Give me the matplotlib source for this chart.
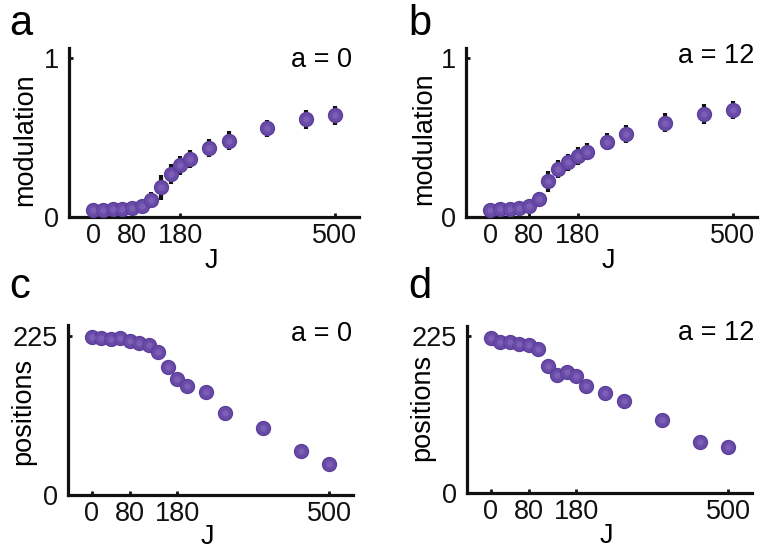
import matplotlib
matplotlib.use("Agg")
import matplotlib.pyplot as plt
import numpy as np

plt.rcParams['font.family'] = ['Liberation Sans', 'DejaVu Sans']

J = [0, 20, 40, 60, 80, 100, 120, 140, 160, 180, 200, 240, 280, 360, 440, 500]

mod_a0 = [0.046, 0.046, 0.050, 0.050, 0.056, 0.071, 0.109, 0.186, 0.272, 0.326, 0.366, 0.433, 0.481, 0.559, 0.615, 0.642]
err_a0 = [0.012, 0.012, 0.012, 0.012, 0.014, 0.022, 0.050, 0.078, 0.065, 0.060, 0.057, 0.057, 0.058, 0.055, 0.058, 0.060]
mod_a12 = [0.046, 0.050, 0.050, 0.054, 0.067, 0.113, 0.224, 0.301, 0.345, 0.385, 0.412, 0.475, 0.523, 0.594, 0.649, 0.674]
err_a12 = [0.012, 0.012, 0.012, 0.012, 0.018, 0.045, 0.066, 0.058, 0.055, 0.055, 0.055, 0.055, 0.058, 0.061, 0.060, 0.059]

pos_a0 = [223.6, 221.2, 219.8, 221.2, 217.9, 214.6, 211.7, 202.2, 180.9, 163.4, 153.9, 145.4, 116.1, 94.7, 62.5, 43.6]
pos_a12 = [223.0, 216.8, 216.8, 214.5, 212.1, 206.4, 182.1, 170.2, 174.0, 168.3, 153.5, 143.9, 132.0, 104.9, 73.9, 65.8]

xticks = [0, 80, 180, 500]
W, H = 765, 554
fig = plt.figure(figsize=(W / 100, H / 100), dpi=100)

def px_axes(left, right, top, bottom):
    return fig.add_axes([left / W, 1 - bottom / H, (right - left) / W, (bottom - top) / H])

purple = '#6a4ca8'
edge = '#5c3f9c'
light = '#8a6fc2'
FS = 19.5

def style(ax, ylim, yticks, ylabel, ylab_xy, xlab_xy):
    ax.set_xlim(-50, 550)
    ax.set_ylim(*ylim)
    ax.set_xticks(xticks)
    ax.set_yticks(yticks)
    ax.set_yticklabels([str(t) for t in yticks])
    for s in ['top', 'right']:
        ax.spines[s].set_visible(False)
    for s in ['left', 'bottom']:
        ax.spines[s].set_linewidth(2.3)
        ax.spines[s].set_color('#111111')
    ax.tick_params(direction='in', length=3, width=2, labelsize=FS, colors='#111111')
    ax.tick_params(axis='x', pad=4)
    ax.tick_params(axis='y', pad=7)
    ax.set_xlabel('J', fontsize=FS)
    ax.xaxis.label.set_va('center')
    ax.xaxis.set_label_coords(*xlab_xy)
    ax.set_ylabel(ylabel, fontsize=FS)
    ax.yaxis.label.set_va('center')
    ax.yaxis.set_label_coords(*ylab_xy)
    ax.patch.set_alpha(0)

def dots(ax, x, y, err=None):
    if err is not None:
        ax.errorbar(x, y, yerr=err, fmt='none', ecolor='#111111', elinewidth=3, capsize=0, zorder=2)
    ax.plot(x, y, 'o', ms=10, mfc=purple, mec=edge, mew=1, zorder=3, clip_on=False)
    ax.plot(x, y, 'o', ms=4.5, mfc=light, mec='none', alpha=0.55, zorder=4, clip_on=False)

ax_a = px_axes(69, 359, 48, 217)
dots(ax_a, J, mod_a0, err_a0)
style(ax_a, (0, 1.065), [0, 1], 'modulation', (-0.152, 0.456), (0.49, -0.262))
ax_a.text(0.976, 0.93, 'a = 0', transform=ax_a.transAxes, ha='right', va='center', fontsize=FS)

ax_b = px_axes(466, 757, 48, 217)
dots(ax_b, J, mod_a12, err_a12)
style(ax_b, (0, 1.065), [0, 1], 'modulation', (-0.144, 0.462), (0.49, -0.262))
ax_b.text(0.99, 0.95, 'a = 12', transform=ax_b.transAxes, ha='right', va='center', fontsize=FS)

ax_c = px_axes(68, 353, 325, 495)
dots(ax_c, J, pos_a0)
style(ax_c, (0, 240), [0, 225], 'positions', (-0.158, 0.494), (0.49, -0.25))
ax_c.text(0.996, 0.947, 'a = 0', transform=ax_c.transAxes, ha='right', va='center', fontsize=FS)

ax_d = px_axes(467, 752, 326, 493)
dots(ax_d, J, pos_a12)
style(ax_d, (0, 240), [0, 225], 'positions', (-0.158, 0.51), (0.49, -0.26))
ax_d.text(1.01, 0.956, 'a = 12', transform=ax_d.transAxes, ha='right', va='center', fontsize=FS)

for lab, x, y in [('a', 9, 35), ('b', 408, 35), ('c', 9, 298), ('d', 408, 298)]:
    fig.text(x / W, 1 - y / H, lab, fontsize=30, ha='left', va='baseline')

fig.savefig('out.png', dpi=100)
